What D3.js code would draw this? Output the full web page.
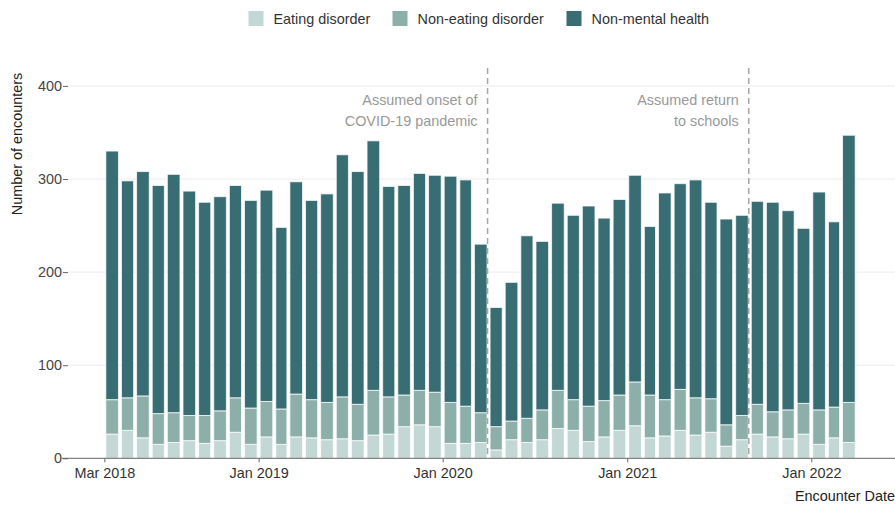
<!DOCTYPE html>
<html><head><meta charset="utf-8">
<script src="https://cdn.jsdelivr.net/npm/d3@7"></script>
<style>body{margin:0;background:#fff;} text{font-family:"Liberation Sans",Arial,sans-serif;}</style>
</head><body><svg id="chart" width="895" height="505"></svg>
<script>
const months = ["2018-03","2018-04","2018-05","2018-06","2018-07","2018-08","2018-09","2018-10","2018-11","2018-12",
"2019-01","2019-02","2019-03","2019-04","2019-05","2019-06","2019-07","2019-08","2019-09","2019-10","2019-11","2019-12",
"2020-01","2020-02","2020-03","2020-04","2020-05","2020-06","2020-07","2020-08","2020-09","2020-10","2020-11","2020-12",
"2021-01","2021-02","2021-03","2021-04","2021-05","2021-06","2021-07","2021-08","2021-09","2021-10","2021-11","2021-12",
"2022-01","2022-02","2022-03"];
const eatingDisorder = [26,30,22,15,17,19,16,19,28,15, 23,15,23,22,20,21,19,25,26,34,36,34, 16,16,17,9,20,17,20,32,30,18,23,30, 35,22,24,30,25,28,13,20,26,23,21,26, 15,22,17];
const nonEatingDisorder = [37,35,45,33,32,27,30,32,37,39, 38,38,46,41,40,45,39,48,40,34,37,37, 44,40,32,25,20,26,32,41,33,38,39,38, 47,46,39,44,40,36,23,26,32,27,31,33, 37,33,43];
const nonMentalHealth = [267,233,241,245,256,241,229,230,228,223, 227,195,228,214,224,260,250,268,226,225,233,233, 243,243,181,128,149,196,181,201,198,215,196,210, 222,181,222,221,234,211,221,215,218,225,214,188, 234,199,287];
const seriesNames = ["Eating disorder","Non-eating disorder","Non-mental health"];
const seriesColors = ["#c3d7d5","#8cafaa","#386d74"];
const yTicks = [0,100,200,300,400];
const xTickDates = ["2018-03-01","2019-01-01","2020-01-01","2021-01-01","2022-01-01"];
const annotations = [
  {date:"2020-04-01", lines:["Assumed onset of","COVID-19 pandemic"]},
  {date:"2021-09-01", lines:["Assumed return","to schools"]}
];

const FS = 14.4;
const parseM = d3.timeParse("%Y-%m");
const parseD = d3.timeParse("%Y-%m-%d");
const svg = d3.select("#chart");
const x = d3.scaleTime().domain([parseD("2017-12-13"), parseD("2022-06-16")]).range([65, 895]);
const y = d3.scaleLinear().domain([0, 400]).range([458.3, 85.9]);

const data = months.map((m,i)=>({date:parseM(m), ed:eatingDisorder[i], ned:nonEatingDisorder[i], nmh:nonMentalHealth[i]}));
const stack = d3.stack().keys(["ed","ned","nmh"]);
const layers = stack(data);

// gridlines
svg.append("g").selectAll("line").data(yTicks.filter(t=>t>0)).join("line")
  .attr("x1",68).attr("x2",895).attr("y1",d=>y(d)).attr("y2",d=>y(d))
  .attr("stroke","#ebebeb").attr("stroke-width",1);

// bars
svg.append("g").selectAll("g").data(layers).join("g")
  .attr("fill",(d,i)=>seriesColors[i])
  .selectAll("rect").data(d=>d).join("rect")
  .attr("x",d=>x(d.data.date)+1.5)
  .attr("width",d=>x(d3.timeMonth.offset(d.data.date,1))-x(d.data.date)-3)
  .attr("y",d=>y(d[1]))
  .attr("height",d=>y(d[0])-y(d[1]))
  .attr("stroke","#ffffff").attr("stroke-opacity",0.75).attr("stroke-width",1);

// x axis
const xAxis = d3.axisBottom(x).tickValues(xTickDates.map(parseD)).tickFormat(d3.timeFormat("%b %Y")).tickSize(4).tickSizeOuter(0);
const gx = svg.append("g").attr("transform",`translate(0,${y(0)})`).call(xAxis);
gx.select(".domain").attr("d","M62,0H895").attr("stroke","#666");
gx.selectAll(".tick line").attr("stroke","#666");
gx.selectAll(".tick text").attr("fill","#333").attr("font-size",FS).attr("dy","0.85em")
  .attr("font-family","'Liberation Sans',Arial,sans-serif");

// y axis
const yAxis = d3.axisLeft(y).tickValues(yTicks).tickSize(5).tickPadding(1);
const gy = svg.append("g").attr("transform","translate(68,0)").call(yAxis);
gy.select(".domain").remove();
gy.selectAll(".tick line").attr("stroke","#666");
gy.selectAll(".tick text").attr("fill","#444").attr("font-size",FS)
  .attr("font-family","'Liberation Sans',Arial,sans-serif");

// annotations
annotations.forEach(a=>{
  const xp = x(parseD(a.date)) - 1;
  svg.append("line").attr("x1",xp).attr("x2",xp).attr("y1",68).attr("y2",y(0))
    .attr("stroke","#a6a6a6").attr("stroke-width",1.5).attr("stroke-dasharray","6,4");
  a.lines.forEach((t,i)=>{
    svg.append("text").attr("x",xp-10).attr("y",105+i*21).attr("text-anchor","end")
      .attr("fill","#999").attr("font-size",FS).text(t);
  });
});

// axis titles
svg.append("text").attr("transform","translate(22,144) rotate(-90)").attr("text-anchor","middle")
  .attr("fill","#222").attr("font-size",FS).text("Number of encounters");
svg.append("text").attr("x",895).attr("y",501).attr("text-anchor","end")
  .attr("fill","#222").attr("font-size",FS).text("Encounter Date");

// legend
const legendX = [248.5, 392.5, 566.5];
const lg = svg.append("g");
seriesNames.forEach((n,i)=>{
  lg.append("rect").attr("x",legendX[i]).attr("y",11).attr("width",15).attr("height",15).attr("fill",seriesColors[i]);
  lg.append("text").attr("x",legendX[i]+25).attr("y",23.5).attr("fill","#333").attr("font-size",FS).text(n);
});
</script></body></html>
